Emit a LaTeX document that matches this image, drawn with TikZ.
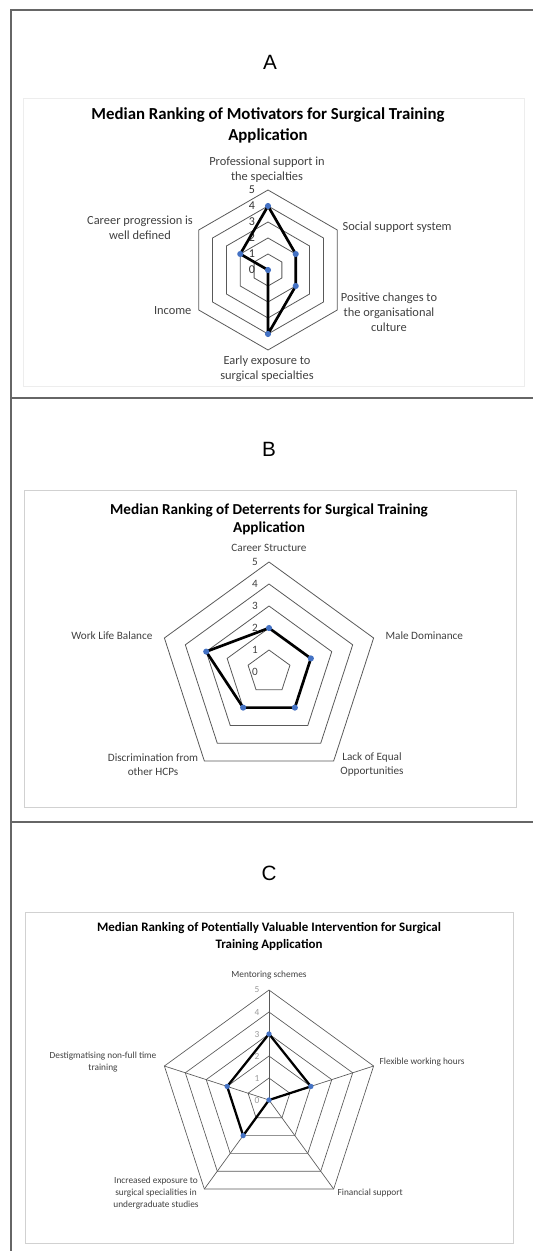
\documentclass[tikz,border=0pt]{standalone}
\usepackage{fontspec}
\setmainfont{Carlito}
\newfontfamily\panelfont{Liberation Sans}
\definecolor{ringgray}{HTML}{595959}
\definecolor{dotblue}{HTML}{4472C4}
\definecolor{labelgray}{HTML}{404040}
\newcommand{\labelA}{\fontsize{9.3}{11.25}\selectfont}
\newcommand{\labelB}{\fontsize{8.4}{10.5}\selectfont}
\newcommand{\labelC}{\fontsize{7}{9}\selectfont}
\tikzset{
  ring/.style={draw=ringgray, line width=0.6pt},
  series/.style={draw=black, line width=2pt, line join=round},
  dot/.style={fill=dotblue},
  frame/.style={draw=black!60, line width=1.1pt},
  chartbox/.style={draw=black!18, line width=0.6pt},
  axislabel/.style={text=labelgray, inner sep=1pt, align=center},
  letter/.style={font=\panelfont\fontsize{15.5}{18}\selectfont},
}
\begin{document}
\begin{tikzpicture}[x=0.75pt,y=-0.75pt]
  \useasboundingbox (0,0) rectangle (533,1251);
  \draw[frame] (11,1251) -- (11,10) -- (533,10);
  \draw[frame] (11,398) -- (533,398);
  \draw[frame] (11,822) -- (533,822);

  % panel A: motivators
  \node[letter] (letterA) at (270,62) {A};
  \draw[chartbox, draw=black!7] (23,98) rectangle (524,386);
  \node[font=\bfseries\fontsize{12.6}{15.75}\selectfont, align=center] (titleA) at (268,125.5) {Median Ranking of Motivators for Surgical Training\\Application};
  \begin{scope}[shift={(268,270)}, y=0.75pt]
    \foreach \k in {1,...,5}
      \draw[ring] (90:{16*\k}) -- (30:{16*\k}) -- (-30:{16*\k}) -- (-90:{16*\k}) -- (-150:{16*\k}) -- (150:{16*\k}) -- cycle;
    \foreach \k in {0,...,5}
      \node[axislabel, text=black!80, font=\fontsize{9}{10}\selectfont] (tickA\k) at (-16,{16*\k}) {\k};
    \draw[series] (90:64) -- (30:32) -- (-30:32) -- (-90:64) -- (-150:0) -- (150:32) -- cycle;
    \foreach \a/\v in {90/4,30/2,-30/2,-90/4,-150/0,150/2}
      \fill[dot] (\a:{16*\v}) circle (2.3pt);
  \end{scope}
  \node[axislabel, font=\labelA] (profA) at (267,169.5) {Professional support in\\the specialties};
  \node[axislabel, font=\labelA, anchor=west] (socialA) at (341,227) {Social support system};
  \node[axislabel, font=\labelA] (cultureA) at (389,312) {Positive changes to\\the organisational\\culture};
  \node[axislabel, font=\labelA] (earlyA) at (267,369) {Early exposure to\\surgical specialties};
  \node[axislabel, font=\labelA, anchor=east] (incomeA) at (193,311) {Income};
  \node[axislabel, font=\labelA] (careerA) at (140,227.5) {Career progression is\\well defined};

  % panel B: deterrents
  \node[letter] (letterB) at (269,449) {B};
  \draw[chartbox] (24,490) rectangle (516,807);
  \node[font=\bfseries\fontsize{11.4}{13.5}\selectfont, align=center] (titleB) at (269,519) {Median Ranking of Deterrents for Surgical Training\\Application};
  \begin{scope}[shift={(269,672)}, y=0.75pt]
    \foreach \k in {1,...,5}
      \draw[ring] (90:{22*\k}) -- (18:{22*\k}) -- (-54:{22*\k}) -- (-126:{22*\k}) -- (162:{22*\k}) -- cycle;
    \foreach \k in {0,...,5}
      \node[axislabel, font=\fontsize{8.4}{10}\selectfont] (tickB\k) at (-14,{22*\k}) {\k};
    \draw[series] (90:44) -- (18:44) -- (-54:44) -- (-126:44) -- (162:66) -- cycle;
    \foreach \a/\v in {90/2,18/2,-54/2,-126/2,162/3}
      \fill[dot] (\a:{22*\v}) circle (2.3pt);
  \end{scope}
  \node[axislabel, font=\labelB] (structB) at (269,548) {Career Structure};
  \node[axislabel, font=\labelB, anchor=west] (maleB) at (384,636) {Male Dominance};
  \node[axislabel, font=\labelB] (equalB) at (372,765) {Lack of Equal\\Opportunities};
  \node[axislabel, font=\labelB] (discrimB) at (153,765) {Discrimination from\\other HCPs};
  \node[axislabel, font=\labelB, anchor=east] (balanceB) at (154,636) {Work Life Balance};

  % panel C: interventions
  \node[letter] (letterC) at (269,873) {C};
  \draw[chartbox] (25,912) rectangle (513,1243);
  \node[font=\bfseries\fontsize{9.7}{12.75}\selectfont, align=center] (titleC) at (269,936.5) {Median Ranking of Potentially Valuable Intervention for Surgical\\Training Application};
  \begin{scope}[shift={(269,1100)}, y=0.75pt]
    \foreach \k in {1,...,5}
      \draw[ring, line width=0.5pt] (90:{22*\k}) -- (18:{22*\k}) -- (-54:{22*\k}) -- (-126:{22*\k}) -- (162:{22*\k}) -- cycle;
    \foreach \a in {90,18,-54,-126,162}
      \draw[ring, line width=0.5pt] (0,0) -- (\a:110);
    \foreach \k in {0,...,5}
      \node[axislabel, text=black!40, font=\fontsize{7}{8}\selectfont] (tickC\k) at (-12,{22*\k}) {\k};
    \draw[series, line width=1.7pt] (90:66) -- (18:44) -- (-54:0) -- (-126:44) -- (162:44) -- cycle;
    \foreach \a/\v in {90/3,18/2,-54/0,-126/2,162/2}
      \fill[dot] (\a:{22*\v}) circle (2pt);
  \end{scope}
  \node[axislabel, font=\labelC] (mentorC) at (269,975) {Mentoring schemes};
  \node[axislabel, font=\labelC, anchor=west] (flexC) at (378,1062) {Flexible working hours};
  \node[axislabel, font=\labelC, anchor=west] (financeC) at (336,1193) {Financial support};
  \node[axislabel, font=\labelC] (exposureC) at (156,1193) {Increased exposure to\\surgical specialities in\\undergraduate studies};
  \node[axislabel, font=\labelC] (destigC) at (103,1062.5) {Destigmatising non-full time\\training};
\end{tikzpicture}
\end{document}
